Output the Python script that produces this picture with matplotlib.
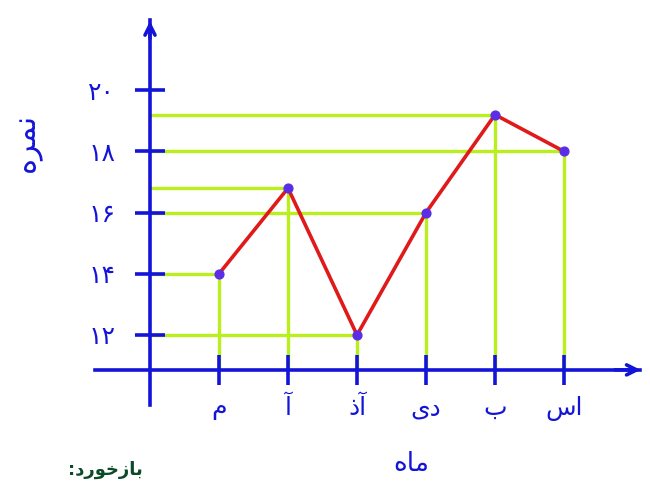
import matplotlib
matplotlib.use("Agg")
import matplotlib.pyplot as plt

# ---- data ----
months = ["م", "آ", "آذ", "دی", "ب", "اس"]
grades = [14, 16.8, 12, 16, 19.2, 18]
y_ticks = [12, 14, 16, 18, 20]
y_tick_labels = ["۱۲", "۱۴", "۱۶", "۱۸", "۲۰"]
x_title = "ماه"
y_title = "نمره"
note_text = "بازخورد:"

# ---- minimal Persian shaping (matplotlib has no complex text layout) ----
DUAL = {
    "ب": "\uFE8F\uFE90\uFE91\uFE92",
    "م": "\uFEE1\uFEE2\uFEE3\uFEE4",
    "ن": "\uFEE5\uFEE6\uFEE7\uFEE8",
    "ه": "\uFEE9\uFEEA\uFEEB\uFEEC",
    "خ": "\uFEA5\uFEA6\uFEA7\uFEA8",
    "س": "\uFEB1\uFEB2\uFEB3\uFEB4",
}
RIGHT = {
    "ا": "\uFE8D\uFE8E", "آ": "\uFE81\uFE82", "د": "\uFEA9\uFEAA",
    "ذ": "\uFEAB\uFEAC", "ر": "\uFEAD\uFEAE", "ز": "\uFEAF\uFEB0",
    "و": "\uFEED\uFEEE",
}


def shape(text):
    out = []
    for i, c in enumerate(text):
        prev = text[i - 1] if i > 0 else ""
        nxt = text[i + 1] if i + 1 < len(text) else ""
        jp = prev in DUAL and (c in DUAL or c in RIGHT)
        jn = c in DUAL and (nxt in DUAL or nxt in RIGHT)
        if c in DUAL:
            f = DUAL[c]
            out.append(f[3] if jp and jn else f[1] if jp else f[2] if jn else c)
        elif c in RIGHT:
            out.append(RIGHT[c][1] if jp else c)
        else:
            out.append(c)
    return "".join(reversed(out))


blue = "#1414d8"
red = "#e01a1a"
green = "#b9ef1c"
dot = "#5a2ee6"

fig = plt.figure(figsize=(6.5, 4.83), dpi=100)
ax = fig.add_axes([0, 0, 1, 1])
ax.set_xlim(-2.174, 7.246)
ax.set_ylim(7.163, 22.948)

x = list(range(1, len(months) + 1))
x_axis_y = 10.86

# guide lines
ax.hlines(grades, 0, x, colors=green, lw=2.4, zorder=1)
ax.vlines(x, x_axis_y, grades, colors=green, lw=2.4, zorder=1)

# data line and points
ax.plot(x, grades, color=red, lw=2.6, zorder=3)
ax.scatter(x, grades, s=40, color=dot, zorder=4)

# axes styling
for s in ["top", "right"]:
    ax.spines[s].set_visible(False)
ax.spines["left"].set_position(("data", 0))
ax.spines["bottom"].set_position(("data", x_axis_y))
ax.spines["left"].set_bounds(9.71, 22.3)
ax.spines["bottom"].set_bounds(-0.8, 7.1)
for s in ["left", "bottom"]:
    ax.spines[s].set_color(blue)
    ax.spines[s].set_linewidth(2.6)

ax.annotate("", xy=(0, 22.35), xytext=(0, 21.6),
            arrowprops=dict(arrowstyle="->", color=blue, lw=2.6,
                            mutation_scale=18))
ax.annotate("", xy=(7.15, x_axis_y), xytext=(6.7, x_axis_y),
            arrowprops=dict(arrowstyle="->", color=blue, lw=2.6,
                            mutation_scale=18))

ax.set_yticks(y_ticks)
ax.set_yticklabels(y_tick_labels)
ax.set_xticks(x)
ax.set_xticklabels([shape(m) for m in months])
ax.tick_params(axis="both", direction="inout", length=22, width=2.6,
               color=blue, labelcolor=blue, labelsize=18)
ax.tick_params(axis="y", pad=14)
ax.tick_params(axis="x", pad=8)

ax.text(-1.78, 18.3, shape(y_title), rotation=90, color=blue, fontsize=22,
        ha="center", va="center")
ax.text(3.79, 7.8, shape(x_title), color=blue, fontsize=19,
        ha="center", va="center")
ax.text(-0.65, 7.6, shape(note_text), color="#0b4a28", fontsize=13,
        fontweight="bold", ha="center", va="center")

fig.savefig("out.png", dpi=100)
